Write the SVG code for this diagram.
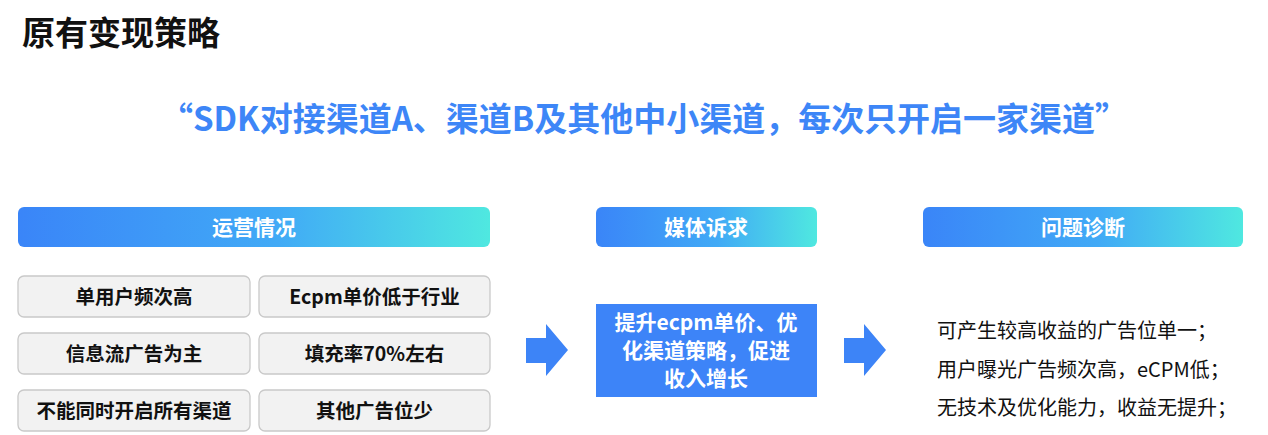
<svg xmlns="http://www.w3.org/2000/svg" width="1268" height="435" viewBox="0 0 1268 435">
<defs>
<linearGradient id="hg" x1="0" y1="0" x2="1" y2="0">
<stop offset="0" stop-color="#3A85F8"/>
<stop offset="0.55" stop-color="#41AAF6"/>
<stop offset="1" stop-color="#4FE8E0"/>
</linearGradient>
<style>
text{font-family:"Noto Sans CJK SC","Noto Sans",sans-serif}
.hdr{fill:url(#hg)}
.ht{fill:#fff;font-size:21px;font-weight:bold;text-anchor:middle}
.cell{fill:#f2f2f2;stroke:#c9c9c9;stroke-width:1.3}
.ct{fill:#111;font-size:19.5px;font-weight:bold;text-anchor:middle}
.arr{fill:#3D84F7}
.rt{fill:#111;font-size:20px}
.mt{fill:#fff;font-size:21px;font-weight:bold;text-anchor:middle}
</style>
</defs>
<rect width="1268" height="435" fill="#fff"/>
<text x="22" y="45" font-size="33" font-weight="bold" fill="#111">原有变现策略</text>
<text x="160" y="131" font-size="33" font-weight="bold" fill="#3D86F7" textLength="968" lengthAdjust="spacingAndGlyphs">“SDK对接渠道A、渠道B及其他中小渠道，每次只开启一家渠道”</text>

<g id="hdr-ops"><rect class="hdr" x="18" y="207" width="472" height="40" rx="6"/><text class="ht" x="254" y="235">运营情况</text></g>
<g id="hdr-media"><rect class="hdr" x="596" y="207" width="221" height="40" rx="6"/><text class="ht" x="706" y="235">媒体诉求</text></g>
<g id="hdr-diag"><rect class="hdr" x="923" y="207" width="320" height="40" rx="6"/><text class="ht" x="1083" y="235">问题诊断</text></g>

<g id="c1"><rect class="cell" x="18" y="276" width="232" height="41" rx="6"/><text class="ct" x="134" y="304">单用户频次高</text></g>
<g id="c2"><rect class="cell" x="259" y="276" width="231" height="41" rx="6"/><text class="ct" x="374.5" y="304">Ecpm单价低于行业</text></g>
<g id="c3"><rect class="cell" x="18" y="333" width="232" height="41" rx="6"/><text class="ct" x="134" y="361">信息流广告为主</text></g>
<g id="c4"><rect class="cell" x="259" y="333" width="231" height="41" rx="6"/><text class="ct" x="374.5" y="361">填充率70%左右</text></g>
<g id="c5"><rect class="cell" x="18" y="390" width="232" height="41" rx="6"/><text class="ct" x="134" y="418">不能同时开启所有渠道</text></g>
<g id="c6"><rect class="cell" x="259" y="390" width="231" height="41" rx="6"/><text class="ct" x="374.5" y="418">其他广告位少</text></g>

<g id="media-box"><rect x="596" y="304" width="221" height="93" fill="#3D84F8"/>
<text class="mt" x="706" y="330">提升ecpm单价、优</text>
<text class="mt" x="706" y="358">化渠道策略，促进</text>
<text class="mt" x="706" y="386">收入增长</text></g>

<g id="diag-text">
<text class="rt" x="937" y="338">可产生较高收益的广告位单一；</text>
<text class="rt" x="937" y="377">用户曝光广告频次高，eCPM低；</text>
<text class="rt" x="937" y="415">无技术及优化能力，收益无提升；</text>
</g>

<g id="connectors">
<polygon class="arr" points="526,338 546,338 546,324 568,350 546,376 546,363 526,363"/>
<polygon class="arr" points="844,338 864,338 864,324 886,350 864,376 864,363 844,363"/>
</g>
</svg>
